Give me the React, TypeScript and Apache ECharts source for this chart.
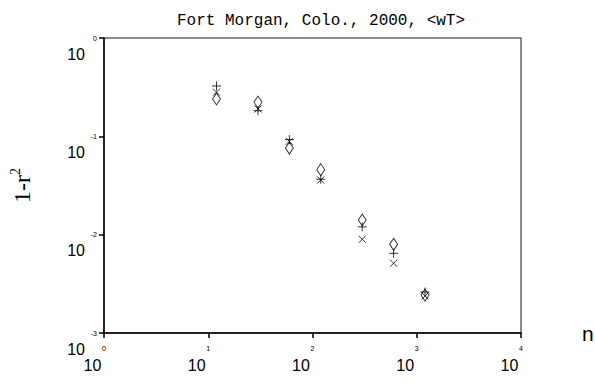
import React, { useEffect, useRef } from "react";
import * as echarts from "echarts";

const titleText = "Fort Morgan, Colo., 2000, <wT>";
const nValues = [12, 30, 60, 120, 300, 600, 1200];
const plusValues = [0.325, 0.182, 0.0925, 0.0366, 0.012, 0.00646, 0.00261];
const crossValues = [0.282, 0.19, 0.0889, 0.036, 0.00897, 0.00512, 0.00238];
const diamondValues = [0.24, 0.223, 0.076, 0.0458, 0.0141, 0.00798, 0.00243];
const xRange = [1, 10000];
const yRange = [0.001, 1];

const expOf = (v: number) => String(Math.round(Math.log10(v)));

export default function App() {
  const ref = useRef<HTMLDivElement>(null);
  useEffect(() => {
    const chart = echarts.init(ref.current!, null, { renderer: "svg" });
    const pts = (ys: number[]) => nValues.map((n, i) => [n, ys[i]]);
    const markerStyle = { color: "transparent", borderColor: "#000", borderWidth: 1 };
    const baseX = {
      type: "log" as const,
      logBase: 10,
      min: xRange[0],
      max: xRange[1],
      gridIndex: 0,
      position: "bottom" as const,
      splitLine: { show: false },
      minorTick: { show: false },
    };
    const baseY = {
      type: "log" as const,
      logBase: 10,
      min: yRange[0],
      max: yRange[1],
      gridIndex: 0,
      position: "left" as const,
      splitLine: { show: false },
      minorTick: { show: false },
    };
    chart.setOption({
      animation: false,
      backgroundColor: "#fff",
      title: {
        text: titleText,
        left: 172,
        top: 8,
        textStyle: { fontFamily: "Liberation Mono", fontSize: 16, fontWeight: "normal", color: "#000" },
      },
      grid: {
        left: 104,
        top: 38,
        right: 74,
        bottom: 50,
        show: true,
        borderColor: "#666",
        borderWidth: 1.5,
        containLabel: false,
        outerBoundsMode: "none",
      },
      xAxis: [
        {
          ...baseX,
          name: "n",
          nameLocation: "end",
          nameGap: 61,
          nameTextStyle: { fontFamily: "Liberation Sans", fontSize: 21, color: "#000", padding: [74, 0, 0, 0] },
          axisLine: { show: true, lineStyle: { color: "#000", width: 1.5 } },
          axisTick: { show: true, length: 5, lineStyle: { color: "#000", width: 1.5 } },
          axisLabel: {
            show: true,
            margin: 12,
            fontSize: 7,
            fontFamily: "Liberation Sans",
            color: "#000",
            showMinLabel: true,
            showMaxLabel: true,
            formatter: (v: number) => expOf(v),
          },
        },
        {
          ...baseX,
          axisLine: { show: false },
          axisTick: { show: false },
          axisLabel: {
            show: true,
            margin: 24,
            showMinLabel: true,
            showMaxLabel: true,
            formatter: () => "{t|10}",
            rich: {
              t: { fontSize: 16, fontFamily: "Liberation Sans", color: "#000", padding: [0, 23, 0, 0] },
            },
          },
        },
      ],
      yAxis: [
        {
          ...baseY,
          name: "{a|1-r}{s|2}",
          nameLocation: "middle",
          nameGap: 68,
          nameRotate: 90,
          nameTextStyle: {
            rich: {
              a: { fontFamily: "Liberation Serif", fontSize: 24, color: "#000" },
              s: { fontFamily: "Liberation Serif", fontSize: 14, color: "#000", padding: [0, 0, 14, 0] },
            },
          },
          axisLine: { show: true, lineStyle: { color: "#000", width: 1.5 } },
          axisTick: { show: true, length: 5, lineStyle: { color: "#000", width: 1.5 } },
          axisLabel: {
            show: true,
            margin: 7,
            fontSize: 7,
            fontFamily: "Liberation Sans",
            color: "#000",
            showMinLabel: true,
            showMaxLabel: true,
            formatter: (v: number) => expOf(v),
          },
        },
        {
          ...baseY,
          axisLine: { show: false },
          axisTick: { show: false },
          axisLabel: {
            show: true,
            margin: 19,
            showMinLabel: true,
            showMaxLabel: true,
            formatter: () => "{t|10}",
            rich: {
              t: { fontSize: 16, fontFamily: "Liberation Sans", color: "#000", padding: [32, 0, 0, 0] },
            },
          },
        },
      ],
      series: [
        {
          type: "scatter",
          name: "plus",
          xAxisIndex: 0,
          yAxisIndex: 0,
          data: pts(plusValues),
          symbol: "path://M5,0L5,10M0,5L10,5",
          symbolSize: [9, 9],
          itemStyle: markerStyle,
        },
        {
          type: "scatter",
          name: "cross",
          xAxisIndex: 0,
          yAxisIndex: 0,
          data: pts(crossValues),
          symbol: "path://M0,0L10,10M10,0L0,10",
          symbolSize: [7, 7],
          itemStyle: markerStyle,
        },
        {
          type: "scatter",
          name: "diamond",
          xAxisIndex: 0,
          yAxisIndex: 0,
          data: pts(diamondValues),
          symbol: "diamond",
          symbolSize: [8, 12],
          itemStyle: markerStyle,
        },
      ],
    });
    return () => chart.dispose();
  }, []);
  return <div ref={ref} style={{ position: "fixed", left: 0, top: 0, width: 595, height: 383 }} />;
}
